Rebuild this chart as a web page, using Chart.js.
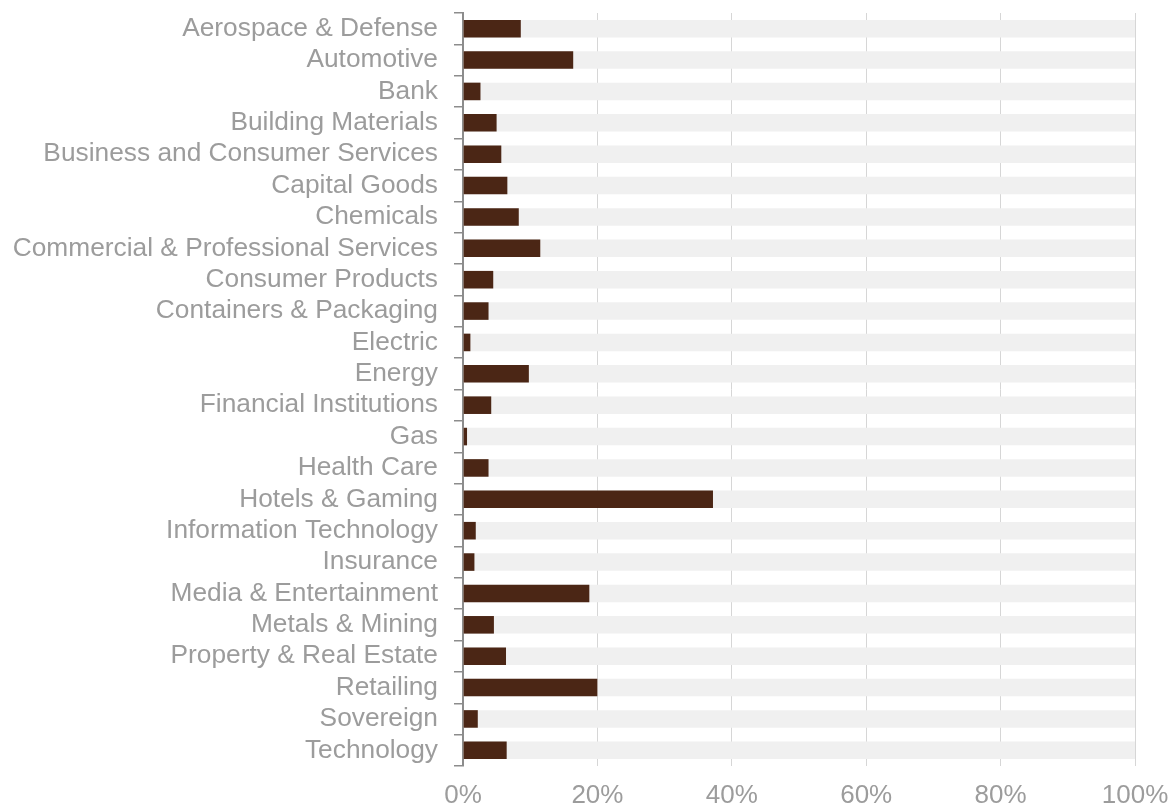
<!DOCTYPE html>
<html>
<head>
<meta charset="utf-8">
<script src="https://cdn.jsdelivr.net/npm/chart.js@4/dist/chart.umd.min.js"></script>
<style>
  html, body { margin: 0; padding: 0; background: #ffffff; }
  #wrap { width: 1171px; height: 806px; position: relative; }
</style>
</head>
<body>
<div id="wrap"><canvas id="c" width="1171" height="806"></canvas></div>
<script>
// Sectors shown on the vertical axis
const sectors = [
  'Aerospace & Defense',
  'Automotive',
  'Bank',
  'Building Materials',
  'Business and Consumer Services',
  'Capital Goods',
  'Chemicals',
  'Commercial & Professional Services',
  'Consumer Products',
  'Containers & Packaging',
  'Electric',
  'Energy',
  'Financial Institutions',
  'Gas',
  'Health Care',
  'Hotels & Gaming',
  'Information Technology',
  'Insurance',
  'Media & Entertainment',
  'Metals & Mining',
  'Property & Real Estate',
  'Retailing',
  'Sovereign',
  'Technology'
];

// Share per sector, in percent
const shares = [
  8.6, 16.4, 2.6, 5.0, 5.7, 6.6, 8.3, 11.5, 4.5, 3.8, 1.1, 9.8,
  4.2, 0.6, 3.8, 37.2, 1.9, 1.7, 18.8, 4.6, 6.4, 20.0, 2.2, 6.5
];

// Full-width track behind every bar
const track = sectors.map(() => 100);

// Horizontal axis range and step
const xMin = 0;
const xMax = 100;
const xStep = 20;

const textGrey = '#9c9c9c';
const fontFamily = '"Liberation Sans", Arial, sans-serif';

new Chart(document.getElementById('c'), {
  type: 'bar',
  data: {
    labels: sectors,
    datasets: [
      {
        data: shares,
        backgroundColor: '#4b2615',
        borderWidth: 0,
        categoryPercentage: 1,
        barPercentage: 0.56,
        grouped: false,
        order: 1
      },
      {
        data: track,
        backgroundColor: '#f0f0f0',
        borderWidth: 0,
        categoryPercentage: 1,
        barPercentage: 0.56,
        grouped: false,
        order: 2
      }
    ]
  },
  options: {
    indexAxis: 'y',
    responsive: false,
    animation: false,
    devicePixelRatio: 1,
    layout: { padding: { top: 13, right: 36, left: 0, bottom: 0 } },
    plugins: {
      legend: { display: false },
      tooltip: { enabled: false }
    },
    scales: {
      x: {
        min: xMin,
        max: xMax,
        ticks: {
          stepSize: xStep,
          callback: v => v + '%',
          color: textGrey,
          font: { family: fontFamily, size: 26 },
          padding: 14,
          maxRotation: 0
        },
        grid: {
          color: '#d6d6d6',
          lineWidth: 1,
          drawTicks: false
        },
        border: { display: false },
        afterFit: s => {
          s.height = 40;
          s.paddingLeft = 0;
          s.paddingRight = 0;
        }
      },
      y: {
        ticks: {
          color: textGrey,
          font: { family: fontFamily, size: 26.3 },
          padding: 16,
          autoSkip: false
        },
        grid: {
          offset: true,
          drawOnChartArea: false,
          drawTicks: true,
          tickLength: 9,
          color: '#8c8c8c',
          lineWidth: 1.5
        },
        border: { display: true, color: '#8c8c8c', width: 2 },
        afterFit: s => {
          s.width = 463;
          s.paddingTop = 0;
          s.paddingBottom = 0;
        }
      }
    }
  }
});
</script>
</body>
</html>
